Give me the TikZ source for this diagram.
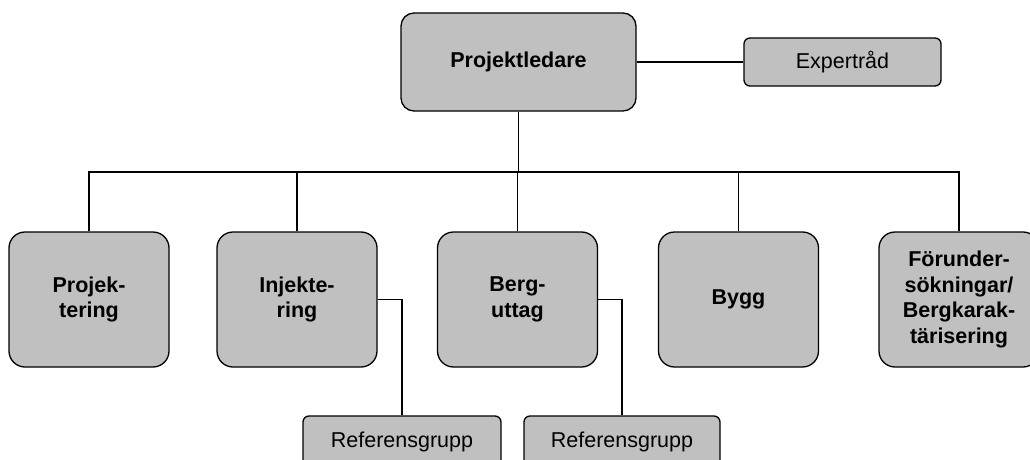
\documentclass[tikz,border=0pt]{standalone}
\usepackage{fontspec}
\setmainfont{Liberation Sans}
\definecolor{boxgray}{HTML}{C0C0C0}
\tikzset{
  every picture/.style={x=1pt,y=-1pt},
  mainbox/.style={draw=black, line width=1.3pt, fill=boxgray, rounded corners=16pt,
    minimum width=160pt, minimum height=135pt, inner sep=0pt, align=center,
    font=\fontsize{21.5}{25.5}\selectfont\bfseries},
  topbox/.style={mainbox, rounded corners=13pt, minimum width=235pt, minimum height=98pt},
  smallbox/.style={draw=black, line width=1.3pt, fill=boxgray, rounded corners=6pt,
    minimum height=50pt, inner sep=0pt, align=center,
    font=\fontsize{21.5}{25.5}\selectfont},
  conn/.style={draw=black, line width=1.3pt}
}
\begin{document}
\begin{tikzpicture}
\clip (0,0) rectangle (1030,460);
\fill[white] (0,0) rectangle (1030,460);
\node[topbox] (pl) at (518.5,62) {Projektledare};
\node[smallbox, minimum width=197pt, minimum height=48pt] (ex) at (842.5,62) {Expertråd};
\node[mainbox] (p1) at (89,299.5) {Projek-\\tering};
\node[mainbox] (p2) at (297,299.5) {Injekte-\\ring};
\node[mainbox] (p3) at (517.5,299.5) {Berg-\\uttag};
\node[mainbox] (p4) at (738.5,299.5) {Bygg};
\node[mainbox] (p5) at (959,299.5) {Förunder-\\sökningar/\\Bergkarak-\\tärisering};
\node[smallbox, minimum width=198pt, minimum height=52pt] (r1) at (402,442) {Referensgrupp};
\node[smallbox, minimum width=196pt, minimum height=52pt] (r2) at (622,442) {Referensgrupp};
\coordinate (bar) at (0,172);
\draw[conn] (pl.east) -- (ex.west);
\draw[conn] (pl.south) -- (pl.south |- bar);
\draw[conn] (p1.north) -- (p1.north |- bar) -| (p5.north);
\draw[conn] (p2.north) -- (p2.north |- bar);
\draw[conn] (p3.north) -- (p3.north |- bar);
\draw[conn] (p4.north) -- (p4.north |- bar);
\draw[conn] (p2.east) -| (r1.north);
\draw[conn] (p3.east) -| (r2.north);
\end{tikzpicture}
\end{document}
